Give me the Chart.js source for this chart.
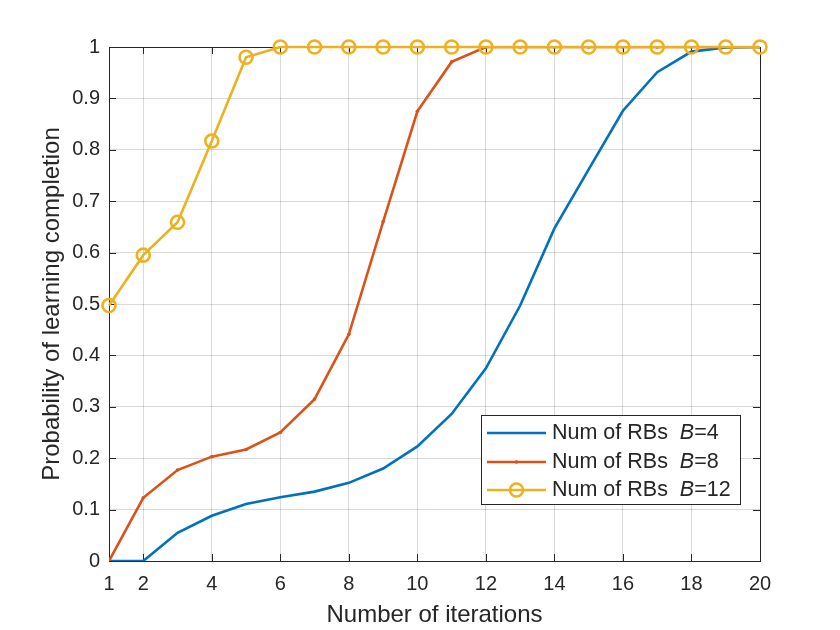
<!DOCTYPE html>
<html lang="en">
<head>
  <meta charset="UTF-8">
  <title>Probability of learning completion</title>
  <script src="https://cdn.jsdelivr.net/npm/chart.js"></script>
  <style>
    html, body { margin: 0; padding: 0; background: #ffffff; }
    canvas { display: block; }
  </style>
</head>
<body>

<canvas id="myChart" width="840" height="630"></canvas>

<script>
/****************************************************************
  DATA
****************************************************************/
const iterations = [1, 2, 3, 4, 5, 6, 7, 8, 9, 10, 11, 12, 13, 14, 15, 16, 17, 18, 19, 20];
const xTickValues = [1, 2, 4, 6, 8, 10, 12, 14, 16, 18, 20];

const probB4  = [0, 0, 0.055, 0.088, 0.111, 0.124, 0.135, 0.152, 0.180, 0.223, 0.286, 0.375, 0.497, 0.647, 0.762, 0.876, 0.951, 0.991, 0.999, 1];
const probB8  = [0, 0.123, 0.177, 0.203, 0.217, 0.250, 0.315, 0.441, 0.660, 0.875, 0.971, 1, 1, 1, 1, 1, 1, 1, 1, 1];
const probB12 = [0.497, 0.595, 0.659, 0.817, 0.980, 1, 1, 1, 1, 1, 1, 1, 1, 1, 1, 1, 1, 1, 1, 1];

const legendLabels = ['4', '8', '12'];

const BLUE = '#0072BD', RED = '#D95319', YELLOW = '#EDB120';
const TEXT = '#262626';
const FONT = '"Liberation Sans", Arial, Helvetica, sans-serif';
const LW = 2.6;

const toPoints = ys => iterations.map((x, i) => ({ x, y: ys[i] }));

/****************************************************************
  PLUGINS: matlab-style box with inward ticks, and inside legend
****************************************************************/
const boxPlugin = {
  id: 'box',
  beforeDatasetsDraw(chart) {
    const { ctx, chartArea: a, scales } = chart;
    const len = 7;
    ctx.save();
    ctx.strokeStyle = TEXT;
    ctx.lineWidth = 1;
    ctx.beginPath();
    scales.x.ticks.forEach(t => {
      const px = Math.round(scales.x.getPixelForValue(t.value)) + 0.5;
      ctx.moveTo(px, a.bottom); ctx.lineTo(px, a.bottom - len);
      ctx.moveTo(px, a.top);    ctx.lineTo(px, a.top + len);
    });
    scales.y.ticks.forEach(t => {
      const py = Math.round(scales.y.getPixelForValue(t.value)) + 0.5;
      ctx.moveTo(a.left, py);  ctx.lineTo(a.left + len, py);
      ctx.moveTo(a.right, py); ctx.lineTo(a.right - len, py);
    });
    ctx.stroke();
    ctx.strokeRect(Math.round(a.left) + 0.5, Math.round(a.top) + 0.5,
                   Math.round(a.right - a.left), Math.round(a.bottom - a.top));
    ctx.restore();
  }
};

const legendPlugin = {
  id: 'insideLegend',
  afterDraw(chart) {
    const { ctx } = chart;
    const x0 = 481.5, y0 = 415.5, w = 259, h = 89;
    const rowY = [433, 462, 490];
    ctx.save();
    ctx.fillStyle = '#ffffff';
    ctx.fillRect(x0, y0, w, h);
    ctx.strokeStyle = TEXT;
    ctx.lineWidth = 1;
    ctx.strokeRect(x0, y0, w, h);

    chart.data.datasets.forEach((ds, i) => {
      const y = rowY[i];
      ctx.strokeStyle = ds.borderColor;
      ctx.lineWidth = ds.borderWidth;
      ctx.beginPath();
      ctx.moveTo(487, y); ctx.lineTo(546, y);
      ctx.stroke();
      if (i === 1) {
        ctx.fillStyle = ds.borderColor;
        ctx.beginPath(); ctx.arc(516.5, y, 1.8, 0, Math.PI * 2); ctx.fill();
      }
      if (i === 2) {
        ctx.beginPath(); ctx.arc(516.5, y, 6.5, 0, Math.PI * 2); ctx.stroke();
      }

      ctx.fillStyle = TEXT;
      ctx.textBaseline = 'middle';
      let tx = 552;
      ctx.font = '21.5px ' + FONT;
      const pre = 'Num of RBs  ';
      ctx.fillText(pre, tx, y);
      tx += ctx.measureText(pre).width;
      ctx.font = 'italic 21.5px ' + FONT;
      ctx.fillText('B', tx, y);
      tx += ctx.measureText('B').width;
      ctx.font = '21.5px ' + FONT;
      ctx.fillText('=' + legendLabels[i], tx, y);
    });
    ctx.restore();
  }
};

/****************************************************************
  CHART
****************************************************************/
new Chart(document.getElementById('myChart').getContext('2d'), {
  type: 'line',
  data: {
    datasets: [
      { label: 'Num of RBs B=4', data: toPoints(probB4), borderColor: BLUE, backgroundColor: BLUE,
        borderWidth: LW, pointRadius: 0, order: 3 },
      { label: 'Num of RBs B=8', data: toPoints(probB8), borderColor: RED, backgroundColor: RED,
        borderWidth: LW, pointRadius: 1.8, pointBorderWidth: 0, order: 2 },
      { label: 'Num of RBs B=12', data: toPoints(probB12), borderColor: YELLOW, backgroundColor: 'rgba(0,0,0,0)',
        borderWidth: LW, pointRadius: 6.5, pointBorderWidth: LW, clip: false, order: 1 }
    ]
  },
  options: {
    responsive: false,
    animation: false,
    devicePixelRatio: 1,
    layout: { padding: { left: 0, right: 80, top: 47, bottom: 0 } },
    plugins: { legend: { display: false }, tooltip: { enabled: false } },
    scales: {
      x: {
        type: 'linear', min: 1, max: 20,
        afterBuildTicks: s => { s.ticks = xTickValues.map(v => ({ value: v })); },
        afterFit: s => { s.height = 69; },
        grid: { color: 'rgba(0,0,0,0.15)', drawTicks: false },
        border: { display: false },
        ticks: { color: TEXT, font: { family: FONT, size: 20 }, padding: 11, maxRotation: 0 },
        title: { display: true, text: 'Number of iterations', color: TEXT,
                 font: { family: FONT, size: 24 }, padding: { top: 0, bottom: 0 } }
      },
      y: {
        min: 0, max: 1,
        afterFit: s => { s.width = 109; },
        grid: { color: 'rgba(0,0,0,0.15)', drawTicks: false },
        border: { display: false },
        ticks: { stepSize: 0.1, color: TEXT, font: { family: FONT, size: 20 }, padding: 9,
                 callback: v => String(Number(v.toFixed(1))) },
        title: { display: true, text: 'Probability of learning completion', color: TEXT,
                 font: { family: FONT, size: 24 }, padding: { top: 38, bottom: 0 } }
      }
    }
  },
  plugins: [boxPlugin, legendPlugin]
});
</script>
</body>
</html>
